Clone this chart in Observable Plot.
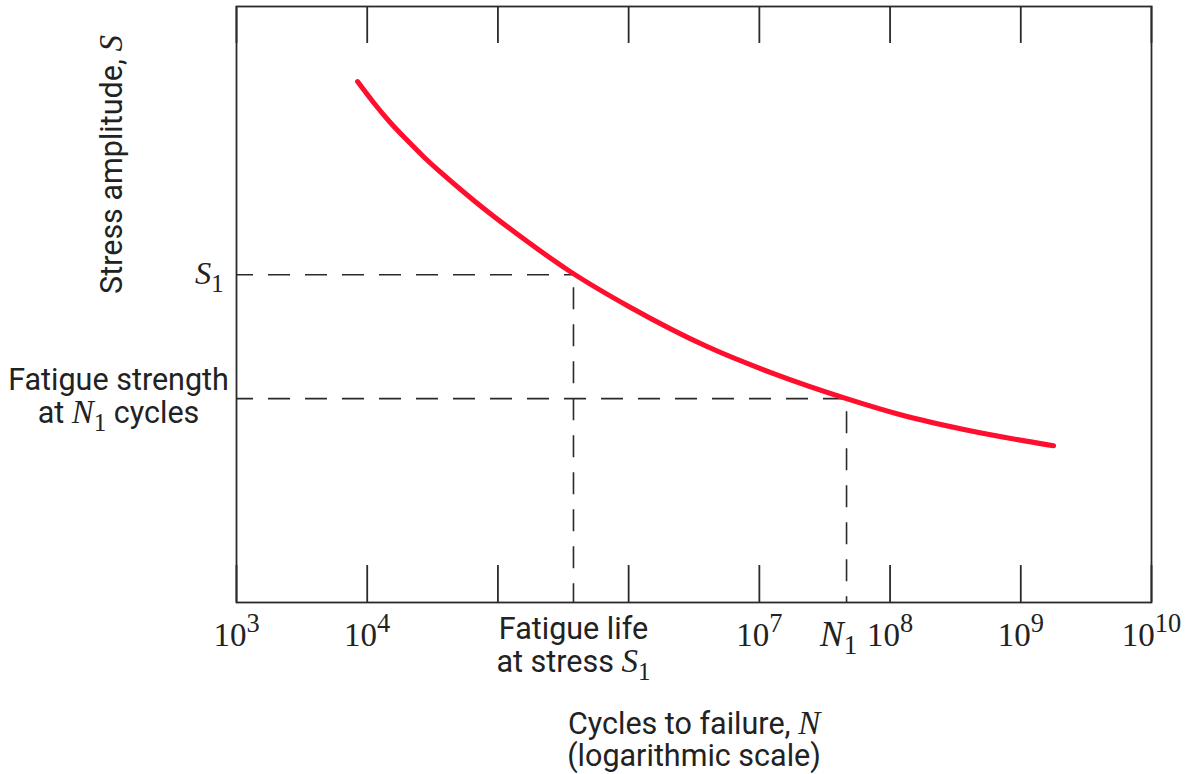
<!DOCTYPE html>
<html>
<head>
<meta charset="utf-8">
<script src="https://cdn.jsdelivr.net/npm/d3@7"></script>
<script src="https://cdn.jsdelivr.net/npm/@observablehq/plot@0.6"></script>
<style>
  body { margin: 0; background: #fff; }
  #chart svg { display: block; background: #fff; }
</style>
</head>
<body>
<div id="chart"></div>
<script>
// ---- data ----
const decadeExponents = [3, 4, 5, 6, 7, 8, 9, 10];      // tick marks
const labelExponents  = [3, 4, 7, 8, 9, 10];            // labelled ticks
const curveLogN = [3.926, 4.048, 4.178, 4.308, 4.431, 4.561, 4.813, 5.173, 5.555, 6.015, 6.604, 7.109, 7.667, 8.080, 8.593, 9.251];
const curveS    = [87.4, 83.9, 80.5, 77.5, 74.8, 72.2, 67.5, 61.4, 55.5, 49.5, 42.9, 38.4, 34.2, 31.5, 28.9, 26.3];
const s1Stress = 55.0, s1LogN = 5.578;   // stress S1 and its fatigue life
const n1LogN = 7.667, n1Stress = 34.2;   // N1 and fatigue strength at N1
const yDomain = [0, 100];
const tickLen = 6.2;

const serif = "Liberation Serif, DejaVu Serif, serif";
const sans = "Roboto, Lato, sans-serif";
const red = "#ff0f2d";
const ink = "#2a2a2a";
const sansSize = 30.5;

const curve = curveLogN.map((n, i) => ({N: 10 ** n, S: curveS[i]}));
const decades = decadeExponents.map(e => ({e, N: 10 ** e}));
const labelled = labelExponents.map(e => ({e, N: 10 ** e}));

const chart = Plot.plot({
  width: 1187,
  height: 774,
  marginTop: 6,
  marginBottom: 172,
  marginLeft: 236,
  marginRight: 36,
  x: {type: "log", domain: [1e3, 1e10], axis: null},
  y: {domain: yDomain, axis: null},
  marks: [
    // dashed guides
    Plot.ruleY([s1Stress], {y: d => d, x1: 1e3, x2: 10 ** s1LogN, stroke: ink, strokeWidth: 1.6, strokeDasharray: "22,15", strokeDashoffset: 5}),
    Plot.ruleX([s1LogN], {x: d => 10 ** d, y1: s1Stress, y2: 0, stroke: ink, strokeWidth: 1.6, strokeDasharray: "22,15", strokeDashoffset: 24}),
    Plot.ruleY([n1Stress], {y: d => d, x1: 1e3, x2: 10 ** n1LogN, stroke: ink, strokeWidth: 1.6, strokeDasharray: "22,15", strokeDashoffset: 5}),
    Plot.ruleX([n1LogN], {x: d => 10 ** d, y1: n1Stress, y2: 0, stroke: ink, strokeWidth: 1.6, strokeDasharray: "22,15", strokeDashoffset: 24}),
    // inward ticks, bottom and top
    Plot.ruleX(decades, {x: "N", y1: yDomain[0], y2: yDomain[0] + tickLen, stroke: ink, strokeWidth: 1.8}),
    Plot.ruleX(decades, {x: "N", y1: yDomain[1] - tickLen, y2: yDomain[1], stroke: ink, strokeWidth: 1.8}),
    Plot.frame({stroke: ink, strokeWidth: 1.8}),
    // S-N curve
    Plot.line(curve, {x: "N", y: "S", stroke: red, strokeWidth: 5, curve: "monotone-x", strokeLinecap: "round"}),
    // tick labels
    Plot.text(labelled, {x: "N", text: d => "10^" + d.e, frameAnchor: "bottom", dy: 43, lineAnchor: "bottom", fontFamily: serif, fontSize: 33, fill: "#222"}),
    Plot.text([n1LogN], {x: d => 10 ** d, text: () => "{N}_1", frameAnchor: "bottom", dy: 43, dx: -8, lineAnchor: "bottom", fontFamily: serif, fontSize: 33, fill: "#222"}),
    Plot.text([s1LogN], {x: d => 10 ** d, text: () => "Fatigue life", frameAnchor: "bottom", dy: 36, lineAnchor: "bottom", fontFamily: sans, fontSize: sansSize, fill: "#222"}),
    Plot.text([s1LogN], {x: d => 10 ** d, text: () => "at stress {S}_1", frameAnchor: "bottom", dy: 69, lineAnchor: "bottom", fontFamily: sans, fontSize: sansSize, fill: "#222"}),
    // x title
    Plot.text(["Cycles to failure, {N}"], {frameAnchor: "bottom", dy: 131, lineAnchor: "bottom", fontFamily: sans, fontSize: sansSize, fill: "#222"}),
    Plot.text(["(logarithmic scale)"], {frameAnchor: "bottom", dy: 163, lineAnchor: "bottom", fontFamily: sans, fontSize: sansSize, fill: "#222"}),
    // y title
    Plot.text(["Stress amplitude, {S}"], {frameAnchor: "top-left", dx: -115, dy: 158, rotate: -90, textAnchor: "middle", lineAnchor: "bottom", fontFamily: sans, fontSize: sansSize, fill: "#222"}),
    // left annotations
    Plot.text([s1Stress], {y: d => d, text: () => "{S}_1", frameAnchor: "left", dx: -13, textAnchor: "end", lineAnchor: "middle", fontFamily: serif, fontSize: 30, fill: "#222"}),
    Plot.text([n1Stress], {y: d => d, text: () => "Fatigue strength", frameAnchor: "left", dx: -118, dy: -9, textAnchor: "middle", lineAnchor: "bottom", fontFamily: sans, fontSize: sansSize, fill: "#222"}),
    Plot.text([n1Stress], {y: d => d, text: () => "at {N}_1 cycles", frameAnchor: "left", dx: -118, dy: 24, textAnchor: "middle", lineAnchor: "bottom", fontFamily: sans, fontSize: sansSize, fill: "#222"})
  ]
});

document.getElementById("chart").appendChild(chart);

// rich text: {X} italic variable, _x subscript, ^x superscript
function richText(svg) {
  const ns = "http://www.w3.org/2000/svg";
  svg.querySelectorAll("text").forEach(el => {
    const s = el.textContent;
    if (!/[{_^]/.test(s)) return;
    const fs = parseFloat(getComputedStyle(el).fontSize) || 28;
    el.textContent = "";
    let shift = 0;
    for (const m of s.matchAll(/\{([^}]*)\}|_(\w+)|\^(\w+)|([^{_^]+)/g)) {
      const t = document.createElementNS(ns, "tspan");
      let target = 0;
      if (m[1] != null) {
        t.textContent = m[1];
        t.setAttribute("font-style", "italic");
        t.setAttribute("font-family", serif);
        t.setAttribute("font-size", fs * 1.08);
      } else if (m[2] != null) {
        t.textContent = m[2];
        t.setAttribute("font-family", serif);
        t.setAttribute("font-size", fs * 0.82);
        target = fs * 0.27;
      } else if (m[3] != null) {
        t.textContent = m[3];
        t.setAttribute("font-family", serif);
        t.setAttribute("font-size", fs * 0.8);
        target = -fs * 0.4;
      } else {
        t.textContent = m[4];
      }
      if (target !== shift) t.setAttribute("dy", target - shift);
      shift = target;
      el.appendChild(t);
    }
  });
}
richText(chart);
</script>
</body>
</html>
